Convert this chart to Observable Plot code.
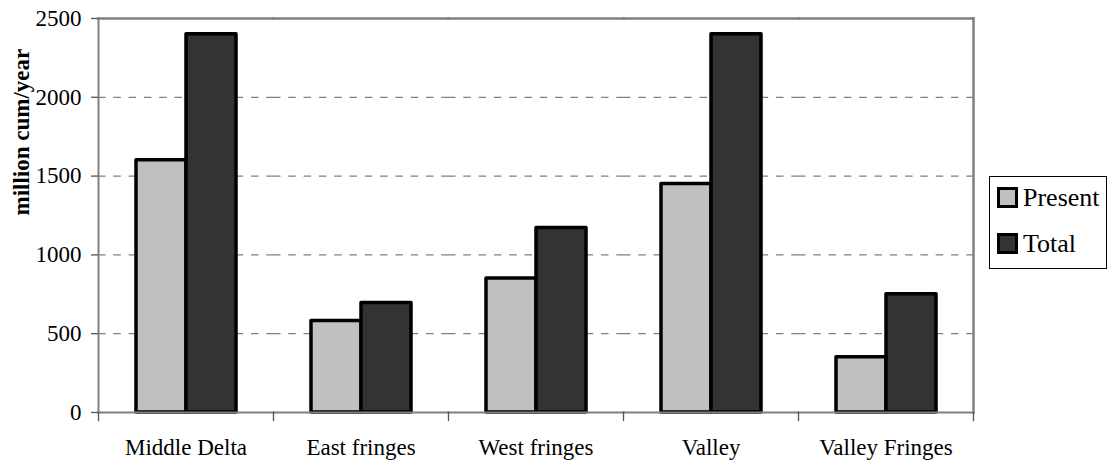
<!DOCTYPE html>
<html>
<head>
<meta charset="utf-8">
<script src="https://cdn.jsdelivr.net/npm/d3@7"></script>
<script src="https://cdn.jsdelivr.net/npm/@observablehq/plot@0.6"></script>
<style>
  html, body { margin: 0; padding: 0; background: #fff; }
  #wrap { position: relative; width: 1107px; height: 462px; overflow: hidden; }
  #wrap svg { position: absolute; left: 0; top: 0; }
  #wrap svg, #wrap svg text { font-family: "Liberation Serif", "Times New Roman", serif !important; }
  #legend { position: absolute; left: 989px; top: 176px; width: 118px; height: 93px; box-sizing: border-box;
            border: 1px solid #000; background: #fff; font-family: "Liberation Serif", "Times New Roman", serif; font-size: 26px; color: #000; }
  .item { position: absolute; left: 7px; display: flex; align-items: center; height: 21px; }
  .sw { width: 21px; height: 21px; box-sizing: border-box; border: 3.5px solid #000; margin-right: 5px; }
  .lab { line-height: 21px; white-space: nowrap; }
</style>
</head>
<body>
<div id="wrap"></div>
<script>
// ---- data ----
const categories = ["Middle Delta", "East fringes", "West fringes", "Valley", "Valley Fringes"];
const series = ["Present", "Total"];
const presentValues = [1600, 580, 850, 1450, 350];
const totalValues = [2400, 695, 1170, 2400, 750];
const yTicks = [0, 500, 1000, 1500, 2000, 2500];
const gridTicks = [500, 1000, 1500, 2000];
const seriesColors = ["#c0c0c0", "#333333"];
const yLabel = "million cum/year";

// ---- table built from the arrays ----
const valuesBySeries = { Present: presentValues, Total: totalValues };
const data = categories.flatMap((c, i) => series.map(s => ({ category: c, series: s, value: valuesBySeries[s][i] })));

const fontFamily = "Liberation Serif, Times New Roman, serif";
const frameGrey = "#808080";

const chart = Plot.plot({
  width: 1107,
  height: 462,
  marginLeft: 97,
  marginRight: 133,
  marginTop: 18,
  marginBottom: 50,
  style: { fontFamily, fontSize: "23px", color: "#000", background: "transparent", overflow: "visible" },
  fx: { domain: categories, padding: 0, label: null },
  x: { domain: series, paddingInner: 0, paddingOuter: 0.716, axis: null },
  y: { domain: [yTicks[0], yTicks[yTicks.length - 1]], label: null },
  color: { domain: series, range: seriesColors },
  marks: [
    Plot.ruleY(gridTicks, { stroke: frameGrey, strokeWidth: 1.3, strokeDasharray: "7.5,7.8" }),
    Plot.barY(data, { fx: "category", x: "series", y: "value", fill: "series", stroke: "#000", strokeWidth: 3.5, strokeLinejoin: "round" }),
    Plot.frame({ anchor: "top", stroke: frameGrey, strokeWidth: 2.5 }),
    Plot.frame({ anchor: "bottom", stroke: frameGrey, strokeWidth: 2 }),
    Plot.frame({ anchor: "left", stroke: frameGrey, strokeWidth: 2, facetAnchor: "left" }),
    Plot.frame({ anchor: "right", stroke: frameGrey, strokeWidth: 2.5, facetAnchor: "right" }),
    Plot.frame({ anchor: "left", stroke: "#555", strokeWidth: 1.3, insetTop: 394, insetBottom: -8 }),
    Plot.frame({ anchor: "right", stroke: "#555", strokeWidth: 1.3, insetTop: 394, insetBottom: -8, facetAnchor: "right" }),
    Plot.axisY({ ticks: yTicks, tickFormat: d => String(d), tickSize: 7, tickPadding: 10, stroke: "#555", strokeWidth: 1.3, label: null, fontSize: 23, fill: "#000" }),
    Plot.axisFx({ anchor: "bottom", tickSize: 0, tickPadding: 26, label: null, fontSize: 23, fill: "#000" }),
    Plot.text([yLabel], { fx: [categories[0]], text: d => d, frameAnchor: "left", rotate: -90, dx: -77, fontWeight: "bold", fontSize: 23, fill: "#000" })
  ]
});

const wrap = document.getElementById("wrap");
wrap.appendChild(chart);

// legend (HTML, built from series arrays)
const legend = document.createElement("div");
legend.id = "legend";
series.forEach((s, i) => {
  const item = document.createElement("div");
  item.className = "item";
  item.style.top = (10 + i * 46) + "px";
  const sw = document.createElement("div");
  sw.className = "sw";
  sw.style.background = seriesColors[i];
  const lab = document.createElement("span");
  lab.className = "lab";
  lab.textContent = s;
  item.appendChild(sw);
  item.appendChild(lab);
  legend.appendChild(item);
});
wrap.appendChild(legend);
</script>
</body>
</html>
